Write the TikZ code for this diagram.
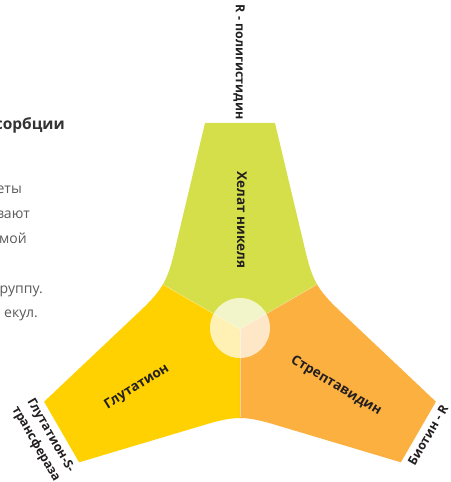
\documentclass[tikz,border=0pt]{standalone}
\usepackage{fontspec}
\setmainfont{Open Sans}
\usepackage{tikz}
\definecolor{nickel}{HTML}{D4DF4A}
\definecolor{gluta}{HTML}{FFD100}
\definecolor{strep}{HTML}{FBB040}
\definecolor{bodytxt}{HTML}{5A5A5A}
\definecolor{headtxt}{HTML}{333333}
\definecolor{labeltxt}{HTML}{231F20}

\begin{document}
\begin{tikzpicture}[
          x=1pt,y=1pt,
          every node/.style={inner sep=0pt},
          lobelabel/.style={font=\fontsize{13.5}{16}\selectfont\bfseries,text=labeltxt},
          taglabel/.style={font=\fontsize{12.5}{17}\selectfont\bfseries,text=labeltxt,align=center},
          bodyline/.style={font=\fontsize{14}{24}\selectfont,text=bodytxt,anchor=base east},
      ]
        \useasboundingbox (-240,-153) rectangle (210,329);
        \foreach \ang/\col in {0/nickel,120/gluta,240/strep}
          \fill[\col,rotate=\ang] (0,0) -- (-77.1,44.5) .. controls (-70.1,56.6) and (-66.8,72.3) .. (-64,84)
            -- (-35,206) -- (35,206) -- (64,84) .. controls (66.8,72.3) and (70.1,56.6) .. (77.1,44.5) -- cycle;
        \foreach \ang in {150,30,270}
          \draw[white,opacity=0.45,line width=0.4pt] (0,0) -- (\ang:88);
        \fill[white,opacity=0.7] (0,1) circle (30pt);

        \node[lobelabel,rotate=-90] (nickel) at (2,109) {Хелат никеля};
        \node[lobelabel,rotate=32]  (gluta)  at (-103,-58) {Глутатион};
        \node[lobelabel,rotate=-31] (strep)  at (96,-57) {Стрептавидин};

        \node[taglabel,rotate=-90] (polyhis) at (-1,267) {R - полигистидин};
        \node[taglabel,rotate=-60] (gst)     at (-197,-111) {Глутатион-S-\\трансфераза};
        \node[taglabel,rotate=60]  (biotin)  at (188,-106) {Биотин - R};

        \node[font=\fontsize{15.5}{18}\selectfont\bfseries,text=headtxt,anchor=base east] (head) at (-175,199) {сорбции};
        \node[bodyline] (l1) at (-218,135) {еты};
        \node[bodyline] (l2) at (-210,110) {вают};
        \node[bodyline] (l3) at (-213,85)  {мой};
        \node[bodyline] (l4) at (-197,36)  {руппу.};
        \node[bodyline] (l5) at (-202,12)  {екул.};
      \end{tikzpicture}
\end{document}
